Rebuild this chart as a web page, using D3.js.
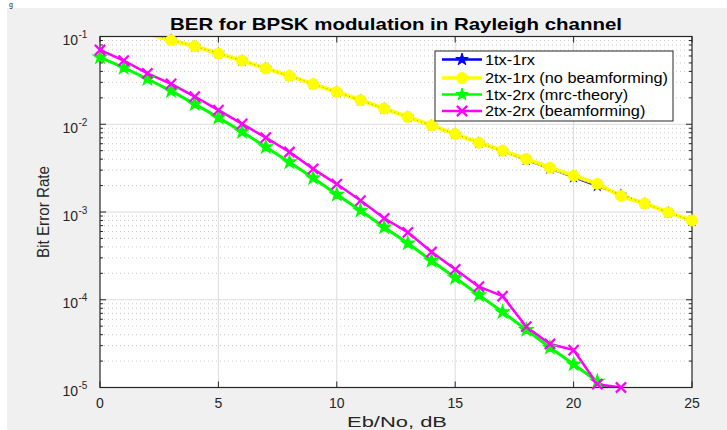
<!DOCTYPE html>
<html><head><meta charset="utf-8">
<script src="https://cdn.jsdelivr.net/npm/d3@7"></script>
<style>html,body{margin:0;padding:0;background:#fff;overflow:hidden}text{font-family:"Liberation Sans",Arial,sans-serif}</style>
</head><body>
<svg id="c" width="727" height="430"></svg>
<script>
const ebno = d3.range(0, 26);
const theory1rx = [0.146,0.1267,0.1085,0.0919,0.0771,0.0642,0.0530,0.0435,0.0355,0.0288,0.0233,0.0187,0.0151,0.0121,0.00966,0.00774,0.00616,0.00492,0.00391,0.00312,0.00248,0.00197,0.00157,0.00125,0.00099,0.00079];
const simNoBeam = [0.146,0.127,0.108,0.0905,0.0775,0.0640,0.0532,0.0433,0.0356,0.0287,0.0233,0.0188,0.0151,0.0121,0.0097,0.00774,0.00617,0.00501,0.00402,0.0032,0.00259,0.00209,0.00152,0.00125,0.00099,0.0008];
const theoryMrc = [0.058,0.0441,0.0328,0.0240,0.0170,0.0119,0.0082,0.0055,0.0037,0.00244,0.00158,0.00104,0.00067,0.00044,0.000278,0.000178,0.000113,0.0000725,0.0000455,0.0000285,0.0000184,0.0000117,0.0000074];
const simBeam = [0.0702,0.053,0.038,0.0288,0.0206,0.0145,0.0101,0.00703,0.00483,0.0031,0.00208,0.00135,0.000848,0.000587,0.00035,0.000222,0.000141,0.00011,0.0000493,0.0000313,0.0000267,0.0000109,0.0000100];
const xTicks = [0,5,10,15,20,25];
const yTickExp = [-1,-2,-3,-4,-5];
const legendLabels = ["1tx-1rx","2tx-1rx (no beamforming)","1tx-2rx (mrc-theory)","2tx-2rx (beamforming)"];
const titleText = "BER for BPSK modulation in Rayleigh channel";
const xLabel = "Eb/No, dB";
const yLabel = "Bit Error Rate";

const svg = d3.select("#c");
const L=100,R=692,T=36.5,B=387.5;
const x = d3.scaleLinear().domain([0,25]).range([L,R]);
const y = d3.scaleLog().domain([1e-5,1e-1]).range([B,T]);
const axisCol="#262626";
const inRange = v => v >= 0.99e-5 && v <= 1.01e-1;

function fit(sel, w){ sel.each(function(){ this.setAttribute("textLength", w); this.setAttribute("lengthAdjust","spacingAndGlyphs"); }); }

// figure background
svg.append("rect").attr("x",7).attr("y",8).attr("width",720).attr("height",422).attr("fill","#f0f0f0");
svg.append("text").attr("x",9).attr("y",7).attr("font-family","Liberation Serif").attr("font-size",7).attr("fill","#222").text("g");
// plot area
svg.append("rect").attr("x",L).attr("y",T).attr("width",R-L).attr("height",B-T).attr("fill","#fff");
svg.append("clipPath").attr("id","clip").append("rect").attr("x",L).attr("y",T).attr("width",R-L).attr("height",B-T);

// minor grid (dotted)
const minorVals=[];
for(let e=-5;e<-1;e++){ for(let k=2;k<=9;k++) minorVals.push(k*Math.pow(10,e)); }
svg.append("g").selectAll("line").data(minorVals).join("line")
  .attr("x1",L).attr("x2",R).attr("y1",d=>y(d)).attr("y2",d=>y(d))
  .attr("stroke","#c8c8c8").attr("stroke-width",1).attr("stroke-dasharray","1,3");
// major grid
svg.append("g").selectAll("line").data(xTicks.slice(1,-1)).join("line")
  .attr("x1",d=>x(d)).attr("x2",d=>x(d)).attr("y1",T).attr("y2",B).attr("stroke","#dcdcdc").attr("stroke-width",1);
svg.append("g").selectAll("line").data(yTickExp.slice(1,-1)).join("line")
  .attr("x1",L).attr("x2",R).attr("y1",d=>y(Math.pow(10,d))).attr("y2",d=>y(Math.pow(10,d))).attr("stroke","#dcdcdc").attr("stroke-width",1);

// ticks
const tk=svg.append("g").attr("stroke",axisCol).attr("stroke-width",1);
xTicks.forEach(v=>{ tk.append("line").attr("x1",x(v)).attr("x2",x(v)).attr("y1",B).attr("y2",B-6);
  tk.append("line").attr("x1",x(v)).attr("x2",x(v)).attr("y1",T).attr("y2",T+6); });
yTickExp.forEach(e=>{ const yy=y(Math.pow(10,e)); tk.append("line").attr("x1",L).attr("x2",L+6).attr("y1",yy).attr("y2",yy);
  tk.append("line").attr("x1",R).attr("x2",R-6).attr("y1",yy).attr("y2",yy); });
minorVals.forEach(v=>{ const yy=y(v); tk.append("line").attr("x1",L).attr("x2",L+3).attr("y1",yy).attr("y2",yy);
  tk.append("line").attr("x1",R).attr("x2",R-3).attr("y1",yy).attr("y2",yy); });

// series
const g = svg.append("g").attr("clip-path","url(#clip)");
const mg = svg.append("g");
const line = d3.line().x((d,i)=>x(ebno[i])).y(d=>y(d));
function series(vals,color,w){ g.append("path").attr("d",line(vals)).attr("fill","none").attr("stroke",color).attr("stroke-width",w).attr("stroke-linejoin","round"); }
function marks(vals,sym){ return mg.append("g").selectAll("path").data(vals.map((v,i)=>[ebno[i],v]).filter(d=>inRange(d[1]))).join("path")
  .attr("d",sym).attr("transform",d=>`translate(${x(d[0])},${y(d[1])})`); }
const star = d3.symbol().type(d3.symbolStar).size(48);
const circ = d3.symbol().type(d3.symbolCircle).size(95);
const cross = d3.symbol().type(d3.symbolX || d3.symbolTimes).size(70);

series(theory1rx,"#0000ff",2);
marks(theory1rx,star).attr("fill","#0000ff");
series(simNoBeam,"#ffff00",4);
marks(simNoBeam,circ).attr("fill","#ffff00").attr("stroke","#ffff00");
g.append("path").attr("d",line(theory1rx)).attr("fill","none").attr("stroke","#2a2a7a").attr("stroke-width",1).attr("stroke-dasharray","1,3").attr("opacity",0.45);
series(theoryMrc,"#00ff00",3);
marks(theoryMrc,star).attr("fill","#00ff00").attr("stroke","#00ff00").attr("stroke-width",1.5);
series(simBeam,"#ff00ff",2.5);
marks(simBeam,cross).attr("fill","none").attr("stroke","#ff00ff").attr("stroke-width",2.2);

// frame
svg.append("rect").attr("x",L).attr("y",T).attr("width",R-L).attr("height",B-T).attr("fill","none").attr("stroke",axisCol).attr("stroke-width",1.2);
svg.node().appendChild(mg.node());

// tick labels
svg.append("g").selectAll("text").data(xTicks).join("text").attr("x",d=>x(d)).attr("y",408).attr("text-anchor","middle")
  .attr("font-size",14).attr("fill",axisCol).text(d=>d);
const yl = svg.append("g").selectAll("g").data(yTickExp).join("g").attr("transform",d=>`translate(0,${y(Math.pow(10,d))})`);
yl.append("text").attr("x",78).attr("y",8.5).attr("text-anchor","end").attr("font-size",14).attr("fill",axisCol).text("10");
yl.append("text").attr("x",78.5).attr("y",1.5).attr("text-anchor","start").attr("font-size",10).attr("fill",axisCol).text(d=>"-"+(-d));

// title and labels
const tt = svg.append("text").attr("x",170).attr("y",30).attr("font-size",16.5).attr("font-weight","bold").attr("fill","#000").text(titleText);
fit(tt,452);
const xl = svg.append("text").attr("x",347).attr("y",427).attr("font-size",15.5).attr("fill",axisCol).text(xLabel);
fit(xl,100);
const ylb = svg.append("text").attr("transform","translate(49,258) rotate(-90)").attr("font-size",16).attr("fill",axisCol).text(yLabel);
fit(ylb,92);

// legend
const lg = svg.append("g");
lg.append("rect").attr("x",435).attr("y",51).attr("width",238).attr("height",70).attr("fill","#fff").attr("stroke",axisCol).attr("stroke-width",1);
const rows=[59.5,78,94.5,111];
const colors=["#0000ff","#ffff00","#00ff00","#ff00ff"];
const syms=[star,circ,star,cross];
legendLabels.forEach((lab,i)=>{
  lg.append("line").attr("x1",442).attr("x2",482).attr("y1",rows[i]).attr("y2",rows[i]).attr("stroke",colors[i]).attr("stroke-width",i==1?3.5:2.5);
  const m=lg.append("path").attr("d",syms[i]).attr("transform",`translate(462,${rows[i]})`);
  if(i==3) m.attr("fill","none").attr("stroke",colors[i]).attr("stroke-width",2.2); else m.attr("fill",colors[i]).attr("stroke",colors[i]);
  lg.append("text").attr("x",485).attr("y",rows[i]+5).attr("font-size",14.5).attr("fill","#000").text(lab);
});
const lt = lg.selectAll("text");
const longest = lt.filter((d,i)=>i==1).node().getComputedTextLength();
const sx = 183/longest;
lt.each(function(){ const w=this.getComputedTextLength(); this.setAttribute("textLength", w*sx); this.setAttribute("lengthAdjust","spacingAndGlyphs"); });
</script>
</body></html>
